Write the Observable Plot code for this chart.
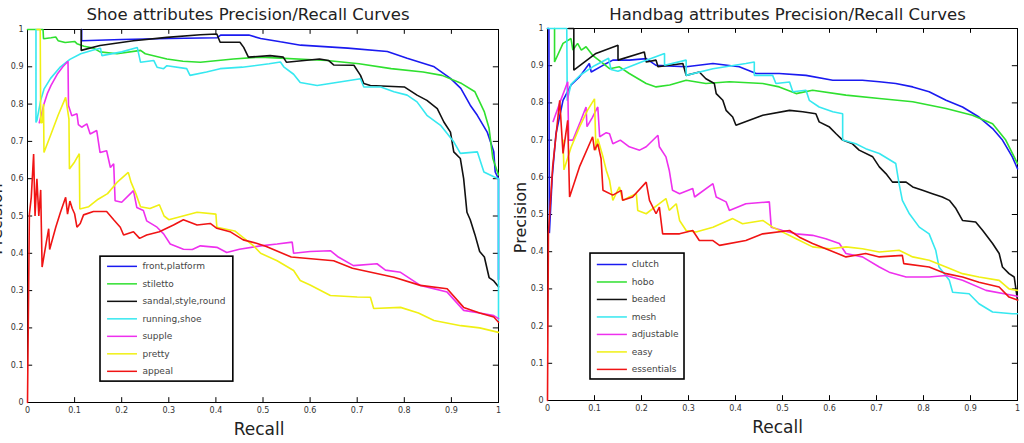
<!DOCTYPE html>
<html><head><meta charset="utf-8">
<script src="https://cdn.jsdelivr.net/npm/d3@7"></script>
<script src="https://cdn.jsdelivr.net/npm/@observablehq/plot@0.6"></script>
<style>
body{margin:0;background:#fff;}
#wrap{display:flex;width:1024px;height:443px;}
.panel{width:512px;height:443px;overflow:hidden;}
</style>
</head><body><div id="wrap"><div class="panel" id="left"></div><div class="panel" id="right"></div></div>
<script>
// ---------- tick labels ----------
const tickVals = [0,0.1,0.2,0.3,0.4,0.5,0.6,0.7,0.8,0.9,1];
const tickLabels = ["0","0.1","0.2","0.3","0.4","0.5","0.6","0.7","0.8","0.9","1"];
const colors = ["#1a1af0","#2fe02f","#111111","#36e8f0","#ee30ee","#f0f014","#f01414"];

// ---------- Shoe panel ----------
const shoeNames = ["front,platform","stiletto","sandal,style,round","running,shoe","supple","pretty","appeal"];
const shoeFront = [[0.115,1.0],[0.115,0.97],[0.2,0.973],[0.3,0.976],[0.403,0.978],[0.41,0.985],[0.47,0.985],[0.495,0.976],[0.537,0.967],[0.58,0.958],[0.68,0.95],[0.764,0.941],[0.806,0.923],[0.862,0.901],[0.898,0.869],[0.92,0.842],[0.94,0.797],[0.955,0.77],[0.976,0.725],[0.99,0.672],[0.993,0.618],[1.0,0.6],[1.0,0.33]];
const shoeStiletto = [[0.0,1.0],[0.033,1.0],[0.034,0.975],[0.05,0.978],[0.06,0.98],[0.065,0.97],[0.08,0.965],[0.1,0.968],[0.105,0.962],[0.12,0.955],[0.14,0.95],[0.154,0.94],[0.19,0.935],[0.24,0.944],[0.25,0.935],[0.296,0.921],[0.33,0.915],[0.367,0.912],[0.437,0.921],[0.494,0.926],[0.636,0.917],[0.704,0.908],[0.772,0.895],[0.84,0.886],[0.88,0.877],[0.922,0.855],[0.95,0.833],[0.97,0.779],[0.98,0.735],[0.988,0.654],[1.0,0.61]];
const shoeSandal = [[0.114,1.0],[0.114,0.944],[0.154,0.957],[0.225,0.97],[0.296,0.979],[0.367,0.986],[0.402,0.988],[0.409,0.966],[0.451,0.966],[0.459,0.952],[0.469,0.926],[0.515,0.93],[0.543,0.926],[0.55,0.912],[0.62,0.921],[0.639,0.917],[0.65,0.905],[0.693,0.904],[0.707,0.877],[0.714,0.855],[0.728,0.85],[0.8,0.846],[0.827,0.824],[0.848,0.81],[0.87,0.788],[0.884,0.752],[0.898,0.725],[0.905,0.672],[0.919,0.654],[0.926,0.6],[0.933,0.51],[0.94,0.49],[0.95,0.45],[0.96,0.405],[0.97,0.39],[0.98,0.335],[0.99,0.326],[1.0,0.31]];
const shoeRunning = [[0.018,1.0],[0.018,0.751],[0.02,0.756],[0.028,0.81],[0.035,0.84],[0.049,0.869],[0.07,0.9],[0.09,0.92],[0.113,0.935],[0.14,0.945],[0.155,0.95],[0.158,0.93],[0.2,0.94],[0.233,0.952],[0.24,0.912],[0.268,0.917],[0.275,0.899],[0.289,0.895],[0.296,0.903],[0.338,0.895],[0.345,0.877],[0.38,0.886],[0.409,0.895],[0.456,0.899],[0.513,0.908],[0.537,0.913],[0.544,0.9],[0.565,0.88],[0.579,0.858],[0.615,0.85],[0.707,0.868],[0.714,0.846],[0.75,0.846],[0.778,0.833],[0.806,0.824],[0.827,0.806],[0.848,0.77],[0.877,0.743],[0.905,0.699],[0.919,0.668],[0.955,0.672],[0.969,0.618],[0.99,0.605],[1.0,0.6],[1.0,0.22]];
const shoeSupple = [[0.025,0.75],[0.028,0.765],[0.035,0.8],[0.042,0.828],[0.05,0.85],[0.063,0.88],[0.075,0.9],[0.086,0.915],[0.087,0.796],[0.094,0.769],[0.105,0.774],[0.108,0.745],[0.115,0.738],[0.126,0.747],[0.133,0.72],[0.147,0.729],[0.154,0.67],[0.168,0.675],[0.176,0.63],[0.183,0.64],[0.186,0.541],[0.2,0.537],[0.225,0.568],[0.232,0.523],[0.246,0.515],[0.253,0.487],[0.275,0.47],[0.289,0.452],[0.303,0.425],[0.331,0.411],[0.35,0.41],[0.367,0.42],[0.402,0.416],[0.423,0.402],[0.45,0.411],[0.495,0.42],[0.53,0.425],[0.562,0.43],[0.565,0.4],[0.6,0.405],[0.643,0.407],[0.66,0.39],[0.692,0.367],[0.742,0.372],[0.76,0.355],[0.792,0.349],[0.834,0.314],[0.891,0.296],[0.926,0.247],[0.96,0.24],[0.99,0.233],[1.0,0.225]];
const shoePretty = [[0.02,1.0],[0.027,1.0],[0.028,0.75],[0.031,0.75],[0.034,0.8],[0.035,0.67],[0.05,0.72],[0.065,0.77],[0.081,0.818],[0.088,0.76],[0.089,0.626],[0.1,0.645],[0.11,0.667],[0.111,0.519],[0.13,0.525],[0.15,0.545],[0.17,0.56],[0.19,0.59],[0.214,0.617],[0.22,0.59],[0.23,0.56],[0.24,0.525],[0.26,0.52],[0.28,0.53],[0.29,0.5],[0.3,0.49],[0.33,0.5],[0.36,0.51],[0.4,0.505],[0.402,0.47],[0.44,0.46],[0.46,0.44],[0.48,0.42],[0.495,0.4],[0.53,0.38],[0.565,0.354],[0.579,0.327],[0.6,0.315],[0.643,0.287],[0.7,0.283],[0.728,0.282],[0.735,0.252],[0.792,0.255],[0.83,0.24],[0.863,0.22],[0.92,0.206],[0.96,0.2],[1.0,0.188]];
const shoeAppeal = [[0,0],[0.004,0.505],[0.008,0.55],[0.013,0.666],[0.016,0.5],[0.02,0.6],[0.024,0.5],[0.028,0.57],[0.031,0.363],[0.04,0.43],[0.045,0.466],[0.047,0.41],[0.06,0.47],[0.07,0.51],[0.081,0.55],[0.085,0.505],[0.09,0.54],[0.095,0.52],[0.1,0.506],[0.105,0.47],[0.112,0.48],[0.119,0.503],[0.14,0.512],[0.168,0.512],[0.183,0.49],[0.197,0.47],[0.204,0.449],[0.225,0.458],[0.238,0.44],[0.253,0.449],[0.28,0.458],[0.31,0.476],[0.331,0.49],[0.36,0.476],[0.388,0.48],[0.402,0.467],[0.43,0.458],[0.458,0.436],[0.486,0.427],[0.507,0.418],[0.56,0.39],[0.65,0.38],[0.69,0.36],[0.778,0.336],[0.834,0.314],[0.891,0.305],[0.926,0.255],[0.96,0.24],[0.99,0.229],[1.0,0.215]];

// ---------- Handbag panel ----------
const bagNames = ["clutch","hobo","beaded","mesh","adjustable","easy","essentials"];
const bagClutch = [[0,1.0],[0.003,1.0],[0.004,0.45],[0.01,0.6],[0.018,0.717],[0.033,0.807],[0.05,0.848],[0.068,0.87],[0.089,0.906],[0.093,0.883],[0.118,0.901],[0.139,0.915],[0.174,0.915],[0.21,0.919],[0.231,0.901],[0.295,0.897],[0.352,0.906],[0.408,0.897],[0.444,0.879],[0.493,0.879],[0.55,0.874],[0.607,0.861],[0.67,0.861],[0.706,0.857],[0.741,0.852],[0.777,0.843],[0.812,0.83],[0.848,0.807],[0.883,0.789],[0.918,0.762],[0.947,0.731],[0.968,0.7],[0.989,0.655],[1.0,0.623]];
const bagHobo = [[0.015,1.0],[0.015,0.91],[0.033,0.96],[0.05,0.973],[0.054,0.942],[0.064,0.96],[0.072,0.942],[0.082,0.951],[0.096,0.928],[0.118,0.906],[0.132,0.892],[0.153,0.897],[0.174,0.879],[0.21,0.852],[0.231,0.843],[0.26,0.848],[0.295,0.861],[0.337,0.852],[0.387,0.857],[0.458,0.852],[0.493,0.843],[0.529,0.825],[0.564,0.834],[0.635,0.821],[0.706,0.812],[0.777,0.803],[0.848,0.785],[0.904,0.767],[0.947,0.744],[0.975,0.7],[1.0,0.637]];
const bagBeaded = [[0.045,1.0],[0.056,1.0],[0.056,0.888],[0.103,0.933],[0.15,0.955],[0.15,0.915],[0.206,0.937],[0.21,0.91],[0.231,0.915],[0.235,0.897],[0.288,0.906],[0.295,0.874],[0.323,0.883],[0.337,0.865],[0.355,0.852],[0.359,0.825],[0.373,0.807],[0.38,0.78],[0.394,0.762],[0.401,0.74],[0.458,0.767],[0.515,0.78],[0.543,0.776],[0.571,0.771],[0.578,0.749],[0.6,0.735],[0.614,0.717],[0.628,0.7],[0.649,0.69],[0.663,0.673],[0.692,0.655],[0.706,0.628],[0.72,0.61],[0.734,0.587],[0.763,0.587],[0.777,0.574],[0.798,0.565],[0.819,0.556],[0.84,0.547],[0.855,0.538],[0.869,0.516],[0.883,0.484],[0.911,0.48],[0.926,0.457],[0.947,0.422],[0.961,0.395],[0.968,0.359],[0.982,0.341],[0.993,0.332],[1.0,0.27]];
const bagMesh = [[0,1.0],[0.041,1.0],[0.042,0.806],[0.05,0.85],[0.07,0.875],[0.1,0.9],[0.13,0.92],[0.135,0.89],[0.15,0.885],[0.2,0.91],[0.249,0.933],[0.249,0.901],[0.295,0.915],[0.295,0.874],[0.352,0.892],[0.422,0.906],[0.44,0.91],[0.44,0.874],[0.479,0.874],[0.486,0.852],[0.515,0.856],[0.522,0.83],[0.55,0.834],[0.557,0.807],[0.578,0.789],[0.607,0.776],[0.628,0.771],[0.628,0.7],[0.656,0.69],[0.677,0.677],[0.706,0.664],[0.741,0.637],[0.748,0.583],[0.755,0.538],[0.77,0.502],[0.791,0.466],[0.812,0.448],[0.826,0.404],[0.833,0.359],[0.855,0.323],[0.862,0.291],[0.897,0.287],[0.918,0.26],[0.947,0.238],[0.989,0.233],[1.0,0.233]];
const bagAdjustable = [[0.012,0.75],[0.026,0.8],[0.035,0.83],[0.043,0.857],[0.045,0.7],[0.054,0.7],[0.07,0.75],[0.082,0.789],[0.084,0.736],[0.095,0.76],[0.107,0.789],[0.111,0.709],[0.125,0.72],[0.132,0.717],[0.139,0.69],[0.155,0.7],[0.174,0.682],[0.196,0.673],[0.21,0.682],[0.235,0.713],[0.238,0.682],[0.252,0.655],[0.259,0.619],[0.266,0.565],[0.281,0.556],[0.309,0.57],[0.313,0.547],[0.352,0.583],[0.359,0.547],[0.38,0.534],[0.387,0.511],[0.422,0.529],[0.472,0.534],[0.476,0.466],[0.5,0.457],[0.529,0.448],[0.564,0.444],[0.592,0.435],[0.621,0.422],[0.635,0.395],[0.67,0.386],[0.706,0.359],[0.727,0.345],[0.763,0.332],[0.812,0.332],[0.848,0.336],[0.883,0.323],[0.933,0.296],[0.989,0.283],[1.0,0.28]];
const bagEasy = [[0.033,0.7],[0.035,0.62],[0.05,0.68],[0.068,0.735],[0.085,0.78],[0.1,0.811],[0.103,0.673],[0.107,0.704],[0.118,0.655],[0.125,0.619],[0.132,0.592],[0.139,0.538],[0.153,0.574],[0.16,0.538],[0.174,0.547],[0.189,0.556],[0.192,0.511],[0.21,0.502],[0.238,0.529],[0.252,0.543],[0.259,0.511],[0.274,0.529],[0.281,0.484],[0.295,0.457],[0.316,0.453],[0.352,0.466],[0.394,0.489],[0.415,0.475],[0.458,0.484],[0.479,0.466],[0.529,0.435],[0.564,0.413],[0.6,0.408],[0.635,0.413],[0.67,0.408],[0.706,0.399],[0.748,0.404],[0.777,0.386],[0.812,0.377],[0.848,0.359],[0.883,0.341],[0.918,0.332],[0.961,0.323],[0.982,0.3],[1.0,0.296]];
const bagEssentials = [[0,0],[0.002,0.45],[0.011,0.628],[0.026,0.807],[0.033,0.664],[0.043,0.753],[0.047,0.547],[0.068,0.628],[0.096,0.709],[0.1,0.673],[0.107,0.69],[0.114,0.65],[0.118,0.565],[0.139,0.552],[0.157,0.565],[0.16,0.538],[0.181,0.547],[0.21,0.587],[0.217,0.538],[0.231,0.502],[0.238,0.52],[0.245,0.448],[0.281,0.448],[0.309,0.457],[0.323,0.43],[0.352,0.43],[0.366,0.417],[0.422,0.43],[0.458,0.448],[0.515,0.457],[0.536,0.439],[0.564,0.422],[0.6,0.404],[0.635,0.386],[0.677,0.395],[0.706,0.386],[0.755,0.39],[0.758,0.368],[0.812,0.359],[0.848,0.341],[0.883,0.332],[0.918,0.318],[0.961,0.305],[0.982,0.278],[1.0,0.27]];

const FONT = "DejaVu Sans, Liberation Sans, sans-serif";

function panel(cfg) {
  const data = cfg.series.flatMap((pts, i) => pts.map(([r, p]) => ({r, p, name: cfg.names[i]})));
  const lg = cfg.legend;
  const items = cfg.names.map((n, i) => ({name: n, y: lg.y0 - i * lg.step}));
  return Plot.plot({
    width: 512, height: 443,
    marginLeft: cfg.ml, marginRight: cfg.mr, marginTop: cfg.mt, marginBottom: cfg.mb,
    style: {fontFamily: FONT, background: "white"},
    x: {domain: [0, 1], axis: null, label: null},
    y: {domain: [0, 1], axis: null, label: null},
    color: {domain: cfg.names, range: colors},
    marks: [
      Plot.frame({stroke: "#000", strokeWidth: 1}),
      Plot.ruleX(tickVals, {x: d => d, y1: 0, y2: 0.013, stroke: "#000"}),
      Plot.ruleX(tickVals, {x: d => d, y1: 0.987, y2: 1, stroke: "#000"}),
      Plot.ruleY(tickVals, {y: d => d, x1: 0, x2: 0.011, stroke: "#000"}),
      Plot.ruleY(tickVals, {y: d => d, x1: 0.989, x2: 1, stroke: "#000"}),
      Plot.axisX(tickVals, {tickSize: 0, tickPadding: 5, fontSize: 8, color: "#333", label: null, tickFormat: (d, i) => tickLabels[i]}),
      Plot.axisY(tickVals, {tickSize: 0, tickPadding: 4, fontSize: 8, color: "#333", label: null, tickFormat: (d, i) => tickLabels[i]}),
      Plot.line(data, {x: "r", y: "p", z: "name", stroke: "name", strokeWidth: 1.6, strokeLinejoin: "miter"}),
      Plot.rect([0], {x1: lg.x1, x2: lg.x2, y1: lg.yb, y2: lg.yt, fill: "white", stroke: "#000", strokeWidth: 1.6}),
      Plot.ruleY(items, {y: "y", x1: lg.lx1, x2: lg.lx2, stroke: "name", strokeWidth: 1.5}),
      Plot.text(items, {x: lg.tx, y: "y", text: "name", textAnchor: "start", fontSize: 9, fill: "#444"}),
      Plot.text([cfg.title], {frameAnchor: "top", lineAnchor: "middle", dx: cfg.titleDx, dy: cfg.titleDy, fontSize: 16.5, fill: "#222"}),
      Plot.text(["Recall"], {frameAnchor: "bottom", lineAnchor: "middle", dx: cfg.recallDx, dy: 27, fontSize: 17, fill: "#222"}),
      Plot.text(["Precision"], {frameAnchor: "left", textAnchor: "middle", dx: cfg.ylabDx, dy: 3, rotate: -90, fontSize: 16, fill: "#222"})
    ]
  });
}

document.getElementById("left").append(panel({
  title: "Shoe attributes Precision/Recall Curves",
  names: shoeNames,
  series: [shoeFront, shoeStiletto, shoeSandal, shoeRunning, shoeSupple, shoePretty, shoeAppeal],
  ml: 27, mr: 14, mt: 29, mb: 41, titleDx: -15, titleDy: -15, recallDx: -4, ylabDx: -31,
  legend: {x1: 0.155, x2: 0.437, yt: 0.391, yb: 0.056, y0: 0.365, step: 0.0469, lx1: 0.17, lx2: 0.2335, tx: 0.244}
}));
document.getElementById("right").append(panel({
  title: "Handbag attributes Precision/Recall Curves",
  names: bagNames,
  series: [bagClutch, bagHobo, bagBeaded, bagMesh, bagAdjustable, bagEasy, bagEssentials],
  ml: 35, mr: 7, mt: 28, mb: 43, titleDx: 5, titleDy: -14, recallDx: -5, ylabDx: -27,
  legend: {x1: 0.0915, x2: 0.2915, yt: 0.395, yb: 0.0565, y0: 0.3656, step: 0.047, lx1: 0.106, lx2: 0.17, tx: 0.179}
}));
</script>
</body></html>
